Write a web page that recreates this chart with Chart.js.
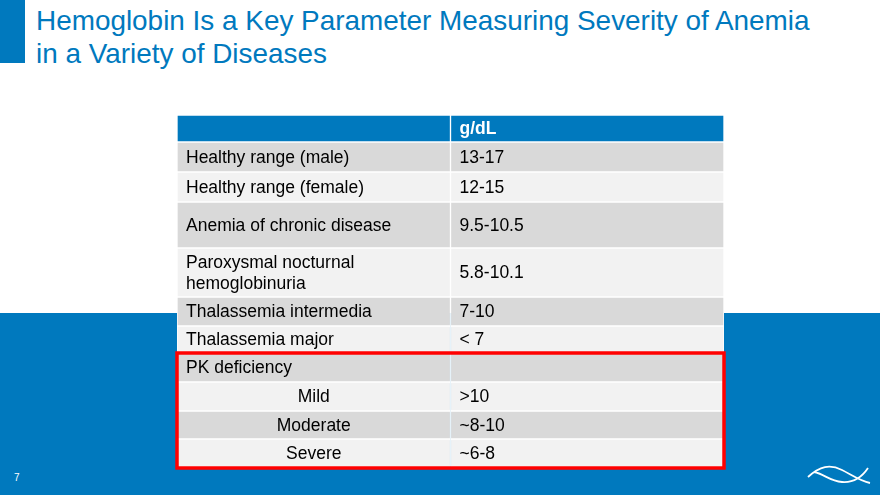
<!DOCTYPE html>
<html>
<head>
<meta charset="utf-8">
<script src="https://cdn.jsdelivr.net/npm/chart.js@4"></script>
<style>
  html, body { margin: 0; padding: 0; }
  body { width: 880px; height: 495px; position: relative; overflow: hidden; background: #fff; font-family: "Liberation Sans", Arial, sans-serif; }
  .band { position: absolute; left: 0; top: 313px; width: 880px; height: 182px; background: #0079be; }
  .accent { position: absolute; left: 0; top: 0; width: 25px; height: 63px; background: #0079be; }
  .title { position: absolute; left: 36px; top: 4px; color: #0079be; font-size: 27.9px; line-height: 33px; }
  .page { position: absolute; left: 14px; top: 472px; color: #fff; font-size: 10px; }
  #tableChart { position: absolute; left: 0; top: 0; }
  .logo { position: absolute; left: 800px; top: 453px; }
</style>
</head>
<body>
<div class="band"></div>
<div class="accent"></div>
<div class="title">Hemoglobin Is a Key Parameter Measuring Severity of Anemia<br>in a Variety of Diseases</div>
<div class="page">7</div>
<svg class="logo" width="80" height="40" viewBox="0 0 80 40">
  <path d="M8 24 C 20 13, 30 11, 42 17 C 52 22, 60 28, 70 30" fill="none" stroke="#fff" stroke-width="1.8"/>
  <path d="M14 19 C 24 21, 30 28, 42 29 C 54 30, 62 24, 68 15" fill="none" stroke="#fff" stroke-width="1.8"/>
</svg>
<canvas id="tableChart" width="880" height="495"></canvas>
<script>
// table content
const headerCells = ["", "g/dL"];
const conditions = [
  "Healthy range (male)",
  "Healthy range (female)",
  "Anemia of chronic disease",
  "Paroxysmal nocturnal\nhemoglobinuria",
  "Thalassemia intermedia",
  "Thalassemia major",
  "PK deficiency",
];
const hbRanges = ["13-17", "12-15", "9.5-10.5", "5.8-10.1", "7-10", "< 7", ""];
const pkLevels = ["Mild", "Moderate", "Severe"];
const pkRanges = [">10", "~8-10", "~6-8"];

// row heights in px (layout, not data)
const rowHeights = [27, 30, 30, 46, 49, 29, 27, 29, 29, 28, 28];

const BLUE = "#0079be";
const DARK = "#d9d9d9";
const LIGHT = "#f2f2f2";

// build rows: header + conditions + pk sub-rows
const rows = [{ cells: headerCells, header: true }];
conditions.forEach((c, i) => rows.push({ cells: [c, hbRanges[i]] }));
pkLevels.forEach((c, i) => rows.push({ cells: [c, pkRanges[i]], centered: true }));

let acc = 0;
const bounds = rowHeights.map((h) => {
  const b = [acc, acc + h];
  acc += h;
  return b;
});
const total = acc;

const datasets = rows.map((r, i) => ({
  data: [bounds[i], bounds[i]],
  backgroundColor: r.header ? BLUE : i % 2 === 1 ? DARK : LIGHT,
  borderColor: "#ffffff",
  borderWidth: 1,
  borderSkipped: false,
  grouped: false,
  barPercentage: 1,
  categoryPercentage: 1,
}));

const cellText = {
  id: "cellText",
  afterDatasetsDraw(chart) {
    const { ctx, scales } = chart;
    const x = scales.x, y = scales.y;
    const colW = (chart.chartArea.right - chart.chartArea.left) / 2;
    ctx.save();
    ctx.textBaseline = "middle";
    rows.forEach((r, i) => {
      const mid = y.getPixelForValue((bounds[i][0] + bounds[i][1]) / 2) + 1;
      r.cells.forEach((txt, c) => {
        if (!txt) return;
        const cx = x.getPixelForValue(c);
        const left = cx - colW / 2;
        ctx.font = (r.header ? "bold " : "") + "17.5px 'Liberation Sans', Arial, sans-serif";
        ctx.fillStyle = r.header ? "#ffffff" : "#000000";
        const lines = txt.split("\n");
        const lh = 21;
        lines.forEach((ln, k) => {
          const ly = mid + (k - (lines.length - 1) / 2) * lh;
          if (r.centered && c === 0) {
            ctx.textAlign = "center";
            ctx.fillText(ln, cx, ly);
          } else {
            ctx.textAlign = "left";
            ctx.fillText(ln, left + 9, ly);
          }
        });
      });
    });
    // red highlight around PK deficiency rows
    const first = conditions.length;
    const top = y.getPixelForValue(bounds[first][0]);
    const bottom = y.getPixelForValue(bounds[rows.length - 1][1]);
    ctx.strokeStyle = "#ff0000";
    ctx.lineWidth = 3.5;
    ctx.strokeRect(chart.chartArea.left, top, chart.chartArea.right - chart.chartArea.left, bottom - top + 1);
    ctx.restore();
  },
};

new Chart(document.getElementById("tableChart"), {
  type: "bar",
  data: { labels: ["condition", "value"], datasets: datasets },
  options: {
    responsive: false,
    animation: false,
    layout: { padding: { left: 177, right: 156, top: 115, bottom: 28 } },
    plugins: { legend: { display: false }, tooltip: { enabled: false } },
    scales: {
      x: { display: false },
      y: { display: false, min: 0, max: total, reverse: true },
    },
  },
  plugins: [cellText],
});
</script>
</body>
</html>
